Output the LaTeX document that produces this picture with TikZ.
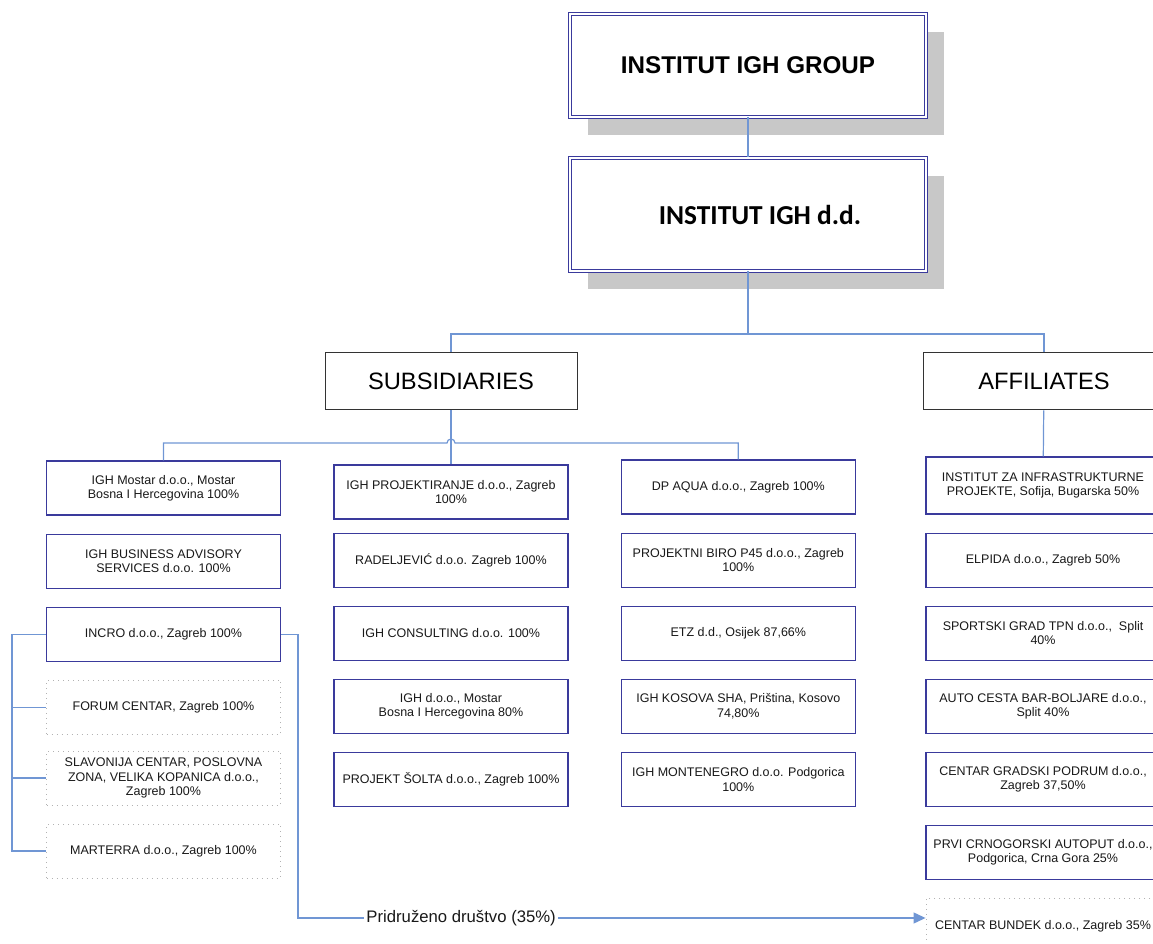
\documentclass[tikz,border=0pt]{standalone}
\usepackage{fontspec}
\setmainfont{Liberation Sans}
\newfontfamily\calfont{Carlito}
\usetikzlibrary{positioning,shadows,arrows.meta}
\definecolor{boxblue}{RGB}{58,58,156}
\definecolor{linkblue}{RGB}{112,150,212}
\definecolor{shadowgray}{RGB}{200,200,200}

\begin{document}
\begin{tikzpicture}[
    x=1pt, y=1pt,
    node distance=18pt,
    topbox/.style={rectangle, draw=boxblue, double=white, double distance=2pt, line width=1pt, fill=white, minimum width=356pt, drop shadow={shadow xshift=18pt, shadow yshift=-18pt, fill=shadowgray, opacity=1}},
    grouphead/.style={rectangle, draw=black!80, line width=1pt, fill=white, minimum height=57pt, font=\fontsize{23.7}{27}\selectfont},
    firm/.style={rectangle, draw=boxblue, line width=1.1pt, fill=white, minimum width=234pt, minimum height=54pt, inner xsep=2pt, align=center, text=black!90, font=\fontsize{12.5}{14.3}\selectfont},
    dotfirm/.style={firm, draw=gray!60, line width=0.9pt, dash pattern=on 1pt off 4pt},
    link/.style={draw=linkblue, line width=1.2pt}
]
    \useasboundingbox (0,0) rectangle (1153,944);

    % Group and parent company
    \node[topbox, minimum height=103pt, font=\bfseries\fontsize{24.2}{28}\selectfont] (group) at (748,878.5) {INSTITUT IGH GROUP};
    \node[topbox, minimum height=113pt, font=\calfont\bfseries\fontsize{27.4}{31}\selectfont] (igh) at (748,729.5) {\hspace*{24pt}INSTITUT IGH d.d.};

    % Sections
    \node[grouphead, minimum width=252pt] (subs) at (451,563) {SUBSIDIARIES};
    \node[grouphead, minimum width=242pt] (affs) at (1044,562.5) {AFFILIATES};

    % Subsidiaries - left column
    \node[firm] (mostar) at (163.5,456) {IGH Mostar d.o.o., Mostar\\Bosna I Hercegovina 100\%};
    \node[firm, below=of mostar] (advisory) {IGH BUSINESS ADVISORY\\SERVICES d.o.o. 100\%};
    \node[firm, below=of advisory] (incro) {INCRO d.o.o., Zagreb 100\%};
    \node[dotfirm, below=of incro] (forum) {FORUM CENTAR, Zagreb 100\%};
    \node[dotfirm, below=16pt of forum] (slavonija) {SLAVONIJA CENTAR, POSLOVNA\\ZONA, VELIKA KOPANICA d.o.o.,\\Zagreb 100\%};
    \node[dotfirm, below=of slavonija] (marterra) {MARTERRA d.o.o., Zagreb 100\%};

    % Subsidiaries - middle column
    \node[firm] (projekt) at (451,452) {IGH PROJEKTIRANJE d.o.o., Zagreb\\100\%};
    \node[firm, below=13pt of projekt] (radeljevic) {RADELJEVIĆ d.o.o. Zagreb 100\%};
    \node[firm, below=of radeljevic] (consulting) {IGH CONSULTING d.o.o. 100\%};
    \node[firm, below=of consulting] (ighmostar) {IGH d.o.o., Mostar\\Bosna I Hercegovina 80\%};
    \node[firm, below=of ighmostar] (solta) {PROJEKT ŠOLTA d.o.o., Zagreb 100\%};

    % Subsidiaries - right column
    \node[firm] (aqua) at (738.3,457) {DP AQUA d.o.o., Zagreb 100\%};
    \node[firm, below=of aqua] (biro) {PROJEKTNI BIRO P45 d.o.o., Zagreb\\100\%};
    \node[firm, below=of biro] (etz) {ETZ d.d., Osijek 87,66\%};
    \node[firm, below=of etz] (kosova) {IGH KOSOVA SHA, Priština, Kosovo\\74,80\%};
    \node[firm, below=of kosova] (montenegro) {IGH MONTENEGRO d.o.o. Podgorica\\100\%};

    % Affiliates
    \node[firm, minimum height=57pt] (izip) at (1043,458.5) {INSTITUT ZA INFRASTRUKTURNE\\PROJEKTE, Sofija, Bugarska 50\%};
    \node[firm, below=of izip] (elpida) {ELPIDA d.o.o., Zagreb 50\%};
    \node[firm, below=of elpida] (sportski) {SPORTSKI GRAD TPN d.o.o.,~~Split\\40\%};
    \node[firm, below=of sportski] (autocesta) {AUTO CESTA BAR-BOLJARE d.o.o.,\\Split 40\%};
    \node[firm, below=of autocesta] (podrum) {CENTAR GRADSKI PODRUM d.o.o.,\\Zagreb 37,50\%};
    \node[firm, below=of podrum] (autoput) {PRVI CRNOGORSKI AUTOPUT d.o.o.,\\Podgorica, Crna Gora 25\%};
    \node[dotfirm, minimum height=56pt, below=of autoput] (bundek) {CENTAR BUNDEK d.o.o., Zagreb 35\%};

    % Connections
    \coordinate (trunk) at (748,610);
    \coordinate (hop) at (451,501);
    \coordinate (brk) at (12,0);
    \coordinate (bend) at (298,26);

    \draw[link] (group) -- (igh);
    \draw[link] (igh) -- (trunk);
    \draw[link] (subs.north) |- (trunk) -| (affs.north);
    \draw[link] (affs) -- (izip);
    \draw[link] (subs) -- (projekt);
    \draw[link] (mostar.north) |- ([xshift=-4pt]hop) arc[start angle=180, end angle=0, radius=4pt] -| (aqua.north);

    \draw[link] (incro.west) -- (incro.west -| brk) |- (marterra.west);
    \draw[link] (forum.west -| brk) -- (forum.west);
    \draw[link] (slavonija.west -| brk) -- (slavonija.west);

    \draw[link, -{Triangle[length=12pt, width=11pt]}] (incro.east) -| (bend) -- node[pos=0.26, fill=white, inner sep=2pt, text=black!90, font=\fontsize{16.7}{19}\selectfont] (assoc) {Pridruženo društvo (35\%)} (bend -| bundek.west);
\end{tikzpicture}
\end{document}
